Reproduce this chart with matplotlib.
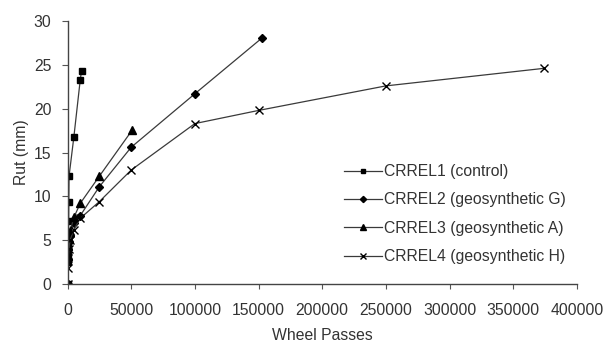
import numpy as np
import matplotlib
matplotlib.use("Agg")
import matplotlib.pyplot as plt

plt.rcParams['font.family'] = ['Liberation Sans', 'DejaVu Sans']

# CRREL1 (control)
x1 = [0, 50, 100, 200, 300, 500, 700, 900, 1000, 1200, 5000, 10000, 11000]
y1 = [0, 2.5, 3.2, 4.0, 4.6, 5.2, 5.6, 7.2, 9.4, 12.3, 16.8, 23.3, 24.3]
# CRREL2 (geosynthetic G)
x2 = [0, 200, 500, 1000, 2000, 5000, 10000, 25000, 50000, 100000, 153000]
y2 = [0, 2.8, 4.0, 4.8, 5.5, 7.0, 7.8, 11.1, 15.6, 21.7, 28.1]
# CRREL3 (geosynthetic A)
x3 = [0, 200, 500, 1000, 2000, 5000, 10000, 25000, 51000]
y3 = [0, 3.2, 4.3, 5.2, 6.0, 7.6, 9.2, 12.3, 17.6]
# CRREL4 (geosynthetic H)
x4 = [0, 200, 500, 1000, 2000, 5000, 10000, 25000, 50000, 100000, 150000, 250000, 374000]
y4 = [0, 1.8, 3.0, 4.0, 5.0, 6.2, 7.5, 9.4, 13.0, 18.3, 19.8, 22.6, 24.6]

labels = ["CRREL1 (control)", "CRREL2 (geosynthetic G)",
          "CRREL3 (geosynthetic A)", "CRREL4 (geosynthetic H)"]

fs = 11.3
fig = plt.figure(figsize=(6.05, 3.44), dpi=100)
ax = fig.add_axes([0.1116, 0.1744, 0.842, 0.7645])

lc = '#3a3a3a'
ax.plot(x1, y1, color=lc, lw=0.9, marker='s', ms=5, mfc='black', mec='black', label=labels[0])
ax.plot(x2, y2, color=lc, lw=0.9, marker='D', ms=4.5, mfc='black', mec='black', label=labels[1])
ax.plot(x3, y3, color=lc, lw=0.9, marker='^', ms=6, mfc='black', mec='black', label=labels[2])
ax.plot(x4, y4, color=lc, lw=0.9, marker='x', ms=6, mec='black', mew=1.0, label=labels[3])

ax.set_xlim(0, 400000)
ax.set_ylim(0, 30)
ax.set_xticks(np.arange(0, 400001, 50000))
ax.set_yticks(np.arange(0, 31, 5))
ax.tick_params(axis='x', labelsize=fs, length=3.5, pad=10.5, color='#555555', labelcolor='#333333')
ax.tick_params(axis='y', labelsize=fs, length=4, pad=7.5, color='#555555', labelcolor='#333333')
for s in ['top', 'right']:
    ax.spines[s].set_visible(False)
for s in ['left', 'bottom']:
    ax.spines[s].set_color('#444444')
    ax.spines[s].set_linewidth(1.0)

ax.set_xlabel("Wheel Passes", fontsize=fs, color='#333333', labelpad=7)
ax.set_ylabel("Rut (mm)", fontsize=fs, color='#333333', labelpad=3.5)

leg = ax.legend(loc='upper left', bbox_to_anchor=(0.5686, 0.523),
                bbox_transform=fig.transFigure, frameon=False, borderpad=0,
                borderaxespad=0, fontsize=fs, handlelength=2.4,
                markerscale=0.7, labelspacing=0.85, handletextpad=0.15)
for t in leg.get_texts():
    t.set_color('#333333')

fig.savefig("out.png", dpi=100)
